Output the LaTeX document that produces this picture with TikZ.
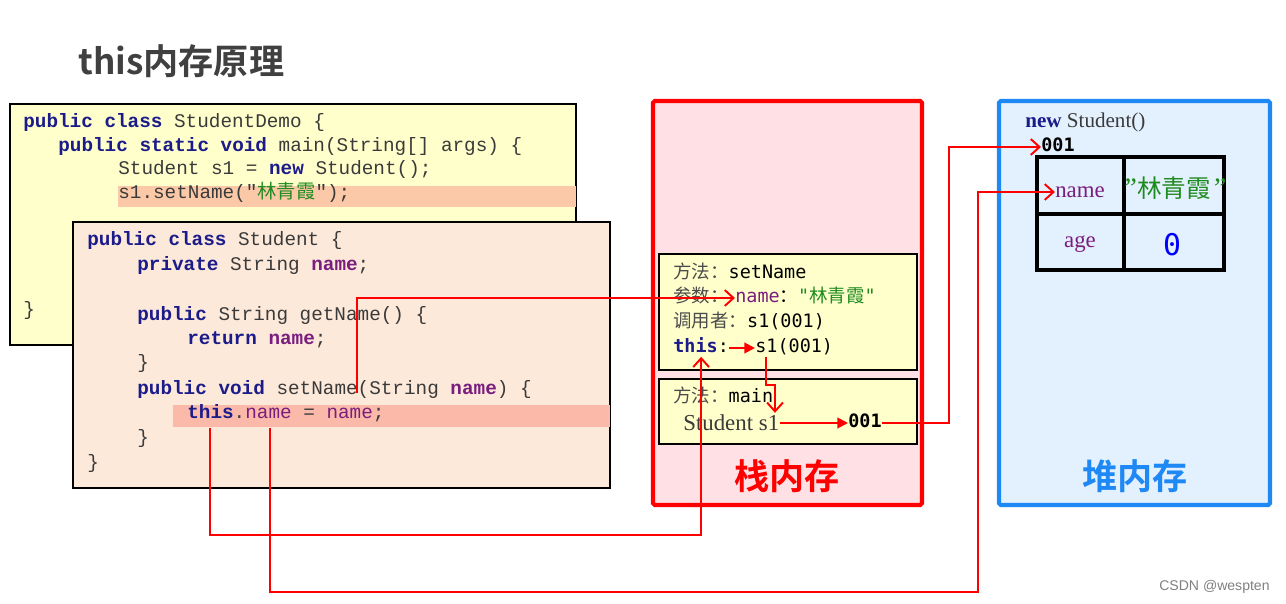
\documentclass[tikz,border=0pt]{standalone}
\usepackage{fontspec}
\setmainfont{Liberation Serif}
\setsansfont{Liberation Sans}
\setmonofont{Liberation Mono}
\newfontfamily\cjk{Noto Sans CJK SC}[BoldFont={Noto Sans CJK SC Bold}]
\newfontfamily\dvm{DejaVu Sans Mono}
\usetikzlibrary{arrows.meta, calc}

\definecolor{kwblue}{HTML}{1B1B8A}
\definecolor{fldpurple}{HTML}{7A1E7E}
\definecolor{strgreen}{HTML}{1F8A1F}
\definecolor{demoyel}{HTML}{FFFFCC}
\definecolor{stupeach}{HTML}{FDE9DA}
\definecolor{hlorange}{HTML}{FBC9A8}
\definecolor{hlsalmon}{HTML}{FBB9AA}
\definecolor{stackpink}{HTML}{FFE1E5}
\definecolor{heapblue}{HTML}{1E88F5}
\definecolor{heapfill}{HTML}{E3F0FE}
\definecolor{titlegray}{HTML}{404040}
\definecolor{codegray}{HTML}{3A3A3A}

\newcommand{\kw}[1]{\textcolor{kwblue}{\bfseries #1}}
\newcommand{\fld}[1]{\textcolor{fldpurple}{\bfseries #1}}
\newcommand{\zh}[1]{{\cjk #1}}

\begin{document}
\begin{tikzpicture}[x=0.02cm, y=-0.02cm,
    code/.style={anchor=west, inner sep=0pt, text height=1.55ex, text depth=0.55ex,
        font=\ttfamily\fontsize{11}{13}\selectfont, text=codegray},
    frametxt/.style={anchor=west, inner sep=0pt, text height=1.55ex, text depth=0.55ex,
        font=\dvm\fontsize{10.5}{13}\selectfont, text=black},
    memlabel/.style={font=\cjk\bfseries\fontsize{20}{24}\selectfont},
    barb/.style={draw=red, line width=1.1pt, -{Straight Barb[length=5pt,width=9pt]}},
    tri/.style={draw=red, line width=1.1pt, -{Triangle[length=6pt,width=6pt]}}]
    \useasboundingbox (0,0) rectangle (1286,604);

    % title
    \node[anchor=west, inner sep=0pt, text=titlegray,
          font=\cjk\bfseries\fontsize{20}{24}\selectfont] (title) at (78,61) {this内存原理};

    % class StudentDemo
    \draw[fill=demoyel, line width=0.8pt] (10,104) rectangle (576,345);
    \fill[hlorange] (118,186) rectangle (576,207);
    \node[code] (demoL1) at (23,123) {\kw{public class} StudentDemo \{};
    \node[code] (demoL2) at (58,147) {\kw{public static void} main(String[] args) \{};
    \node[code] (demoL3) at (118,170) {Student s1 = \kw{new} Student();};
    \node[code] (demoL4) at (118,194) {s1.setName("\textcolor{strgreen}{\zh{林青霞}}");};
    \node[code] (demoL5) at (23,311) {\}};

    % class Student
    \draw[fill=stupeach, line width=0.8pt] (73,222) rectangle (610,488);
    \fill[hlsalmon] (173,405) rectangle (610,427);
    \node[code] (stuL1) at (87,241) {\kw{public class} Student \{};
    \node[code] (stuL2) at (137,266) {\kw{private} String \fld{name};};
    \node[code] (stuL3) at (137,316) {\kw{public} String getName() \{};
    \node[code] (stuL4) at (187,340) {\kw{return} \fld{name};};
    \node[code] (stuL5) at (137,364) {\}};
    \node[code] (stuL6) at (137,390) {\kw{public void} setName(String \fld{name}) \{};
    \node[code] (stuL7) at (187,414) {\kw{this}.\textcolor{fldpurple}{name} = \textcolor{fldpurple}{name};};
    \node[code] (stuL8) at (137,439) {\}};
    \node[code] (stuL9) at (87,464) {\}};
    \coordinate (thisRef) at (210,428);
    \coordinate (nameRef) at (270,428);
    \coordinate (argRef) at (357,393);

    % stack memory
    \draw[fill=stackpink, draw=red, line width=2.3pt, rounded corners=1pt] (653,101) rectangle (922,505);
    \draw[fill=demoyel, line width=0.8pt] (659,254) rectangle (917,370);
    \node[frametxt] (setA1) at (673,274) {\textcolor{black!70}{\zh{方法：}}setName};
    \node[frametxt] (setA2) at (673,298) {\textcolor{black!70}{\zh{参数：}}};
    \node[frametxt] (parName) at (735,298) {\textcolor{fldpurple}{name}\zh{：}\textcolor{strgreen}{"\zh{林青霞}"}};
    \node[frametxt] (setA3) at (673,323) {\textcolor{black!70}{\zh{调用者：}}s1(001)};
    \node[frametxt] (thisKey) at (673,348) {\textcolor{kwblue}{\bfseries this}:};
    \node[frametxt] (thisVal) at (755,348) {s1(001)};

    \draw[fill=demoyel, line width=0.8pt] (659,379) rectangle (917,444);
    \node[frametxt] (mainA1) at (673,398) {\textcolor{black!70}{\zh{方法：}}main};
    \node[anchor=west, inner sep=0pt, text=codegray, font=\fontsize{13}{15}\selectfont] (mainVar) at (683,423) {Student s1};
    \node[frametxt, font=\dvm\bfseries\fontsize{10.5}{13}\selectfont] (mainRef) at (848,423) {001};
    \node[memlabel, text=red] (stackLbl) at (787,476) {栈内存};

    % heap memory
    \draw[fill=heapfill, draw=heapblue, line width=2.3pt, rounded corners=1pt] (999,101) rectangle (1270,505);
    \node[anchor=west, inner sep=0pt, text=codegray, font=\fontsize{12}{14}\selectfont] (objNew) at (1025,122) {\kw{new} Student()};
    \node[frametxt, font=\dvm\bfseries\fontsize{10.5}{13}\selectfont] (objAddr) at (1041,147) {001};
    \draw[line width=2.3pt] (1037,157) rectangle (1224,270);
    \draw[line width=2.3pt] (1124,157) -- (1124,270);
    \draw[line width=2.3pt] (1037,214) -- (1224,214);
    \node[inner sep=0pt, text=fldpurple, font=\fontsize{13}{15}\selectfont] (nameCell) at (1080,192) {name};
    \node[inner sep=0pt, text=strgreen, font=\cjk\fontsize{14}{16}\selectfont] (nameVal) at (1174,188)
        {{\rmfamily\itshape\fontsize{16}{16}\selectfont ”}林青霞{\rmfamily\itshape\fontsize{16}{16}\selectfont ”}};
    \node[inner sep=0pt, text=fldpurple, font=\fontsize{13}{15}\selectfont] (ageCell) at (1080,244) {age};
    \node[inner sep=0pt, text=blue, font=\dvm\fontsize{17}{19}\selectfont] (ageVal) at (1172,245) {0};
    \node[memlabel, text=heapblue] (heapLbl) at (1135,476) {堆内存};

    % references
    \draw[barb] (mainRef.east) -- ++(67,0) |- (objAddr.west);
    \draw[barb] (argRef) |- (parName.west);
    \draw[tri] (thisKey.east) -- (thisVal.west);
    \draw[barb] ($(thisVal.south west)+(11,0)$) -- ++(0,28) -- ++(9,0) -- ++(0,28);
    \draw[tri] (mainVar.east) -- (mainRef.west);
    \draw[barb] (thisRef) -- ++(0,107) -| (thisKey.south);
    \draw[barb] (nameRef) -- ++(0,164) -- ++(708,0) |- (nameCell.west);

    \node[anchor=east, inner sep=0pt, text=gray, font=\sffamily\fontsize{8}{9}\selectfont] (csdn) at (1270,587) {CSDN @wespten};
\end{tikzpicture}
\end{document}
